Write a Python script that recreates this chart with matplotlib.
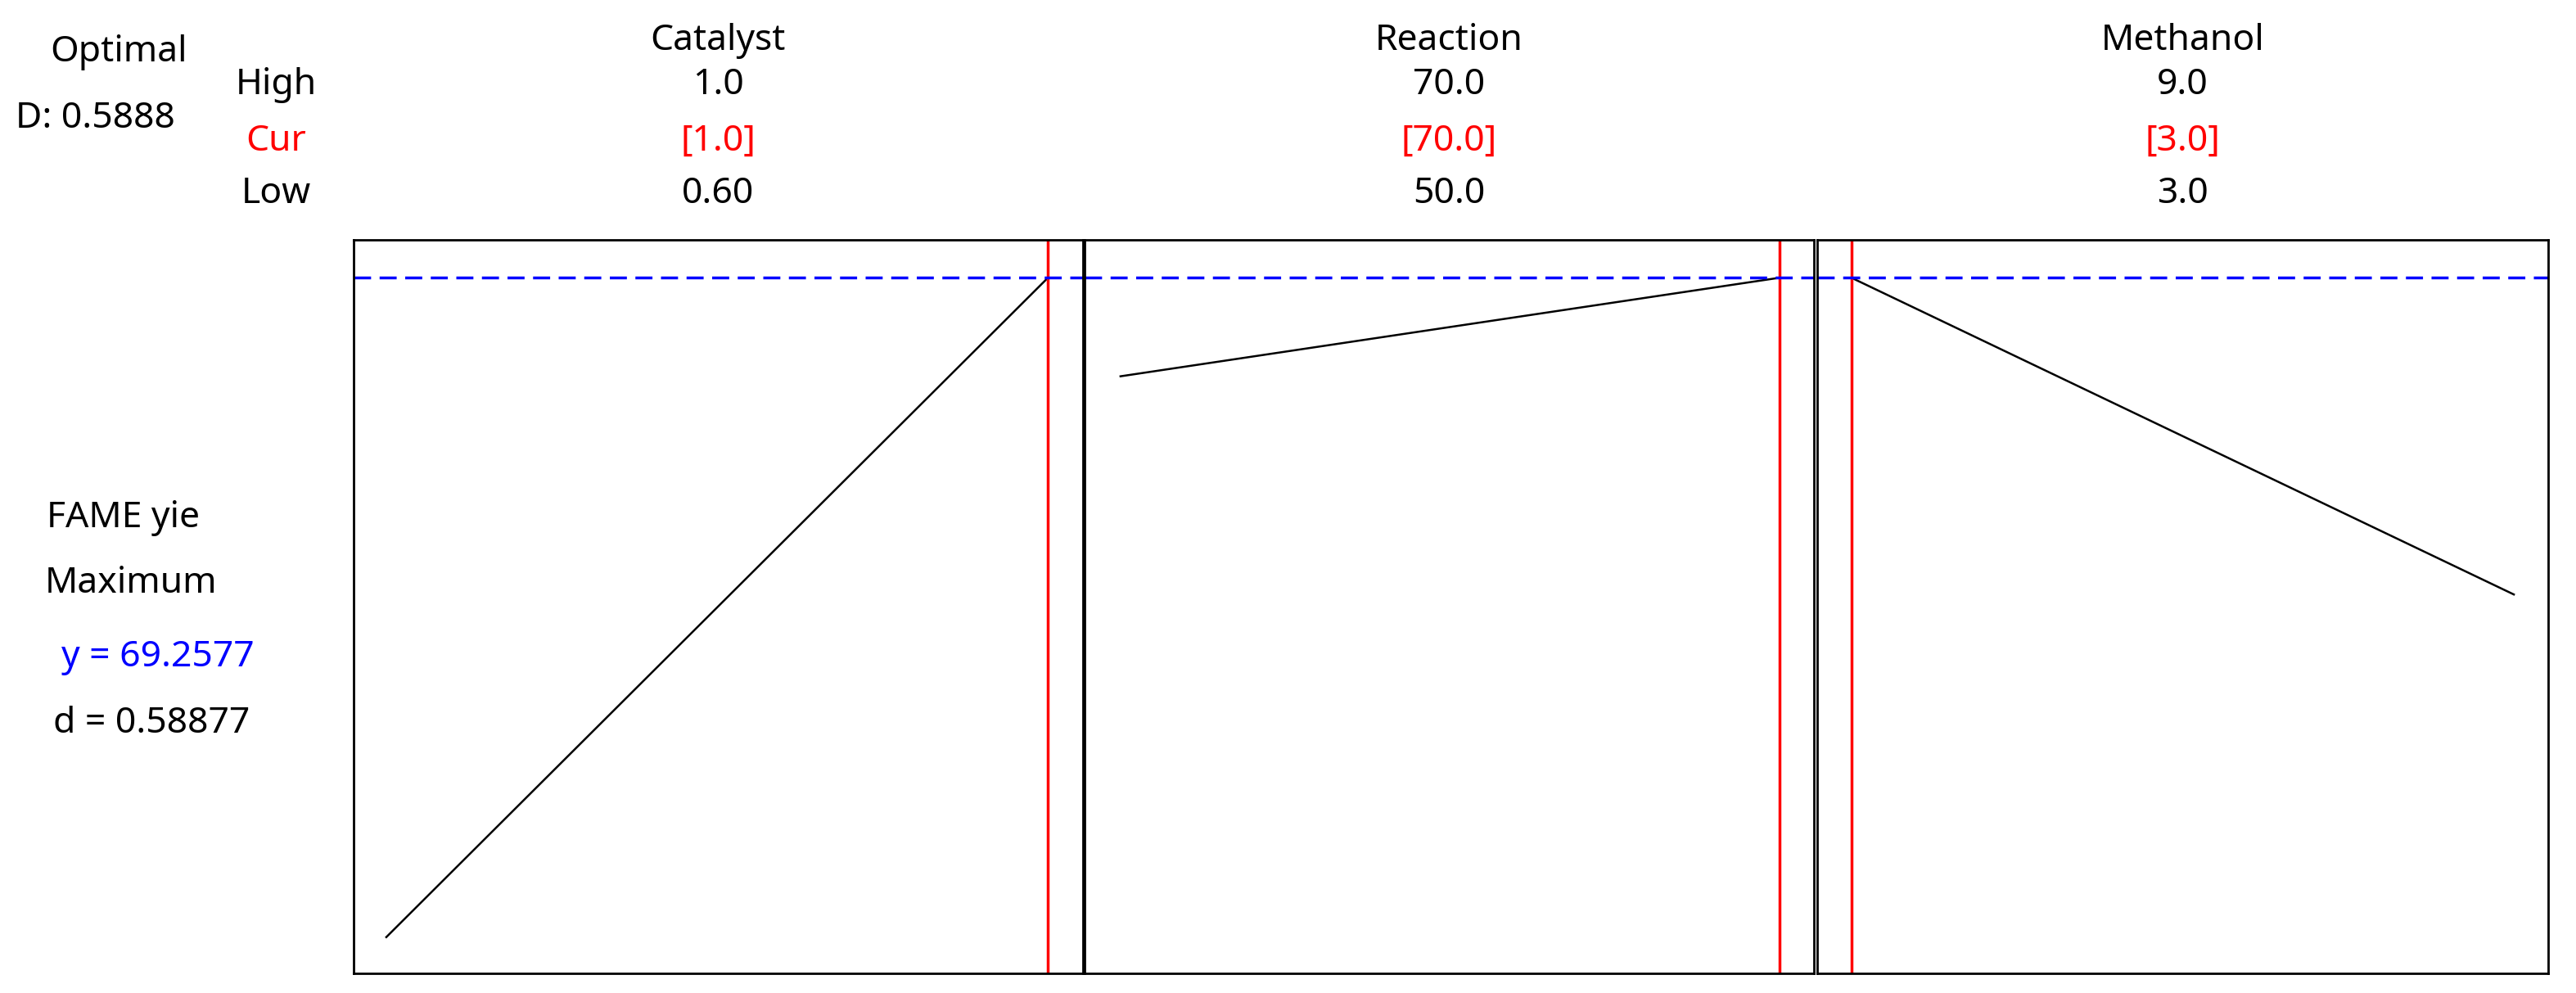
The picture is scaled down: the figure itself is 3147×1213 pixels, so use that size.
import matplotlib
matplotlib.use('Agg')
import matplotlib.pyplot as plt

plt.rcParams['font.family'] = ['Noto Sans', 'DejaVu Sans']

factors = ['Catalyst', 'Reaction', 'Methanol']
high = [1.0, 70.0, 9.0]
low = [0.60, 50.0, 3.0]
cur = [1.0, 70.0, 3.0]
high_txt = ['1.0', '70.0', '9.0']
cur_txt = ['[1.0]', '[70.0]', '[3.0]']
low_txt = ['0.60', '50.0', '3.0']
# predicted FAME yield at the low and high setting of each factor
y_low = [20.0, 61.9, 69.2577]
y_high = [69.2577, 69.2577, 45.6]
y_opt = 69.2577
d_opt = 0.58877
D_all = 0.5888

W, H = 1568, 604  # reference pixel grid used for layout
panels = [(215, 659), (660, 1104), (1106, 1551)]
top, bottom = 146, 592
xlims = [(0.58, 1.021), (48.9, 71.05), (2.687, 9.31)]
ylim = (17.3, 72.08)

fig = plt.figure(figsize=(31.47, 12.13), dpi=100)
fs = 32

for i, (x0, x1) in enumerate(panels):
    ax = fig.add_axes([x0 / W, 1 - bottom / H, (x1 - x0) / W, (bottom - top) / H])
    ax.plot([low[i], high[i]], [y_low[i], y_high[i]], color='black', lw=1.8)
    ax.axvline(cur[i], color='red', lw=2.5)
    ax.axhline(y_opt, color='blue', lw=2.5, ls=(0, (6, 3)))
    ax.set_xlim(*xlims[i])
    ax.set_ylim(*ylim)
    ax.set_xticks([])
    ax.set_yticks([])
    for s in ax.spines.values():
        s.set_linewidth(2)
    cx = (x0 + x1) / 2 / W
    fig.text(cx, 1 - 25 / H, factors[i], ha='center', va='center', fontsize=fs)
    fig.text(cx, 1 - 52 / H, high_txt[i], ha='center', va='center', fontsize=fs)
    fig.text(cx, 1 - 86 / H, cur_txt[i], ha='center', va='center', fontsize=fs, color='red')
    fig.text(cx, 1 - 118 / H, low_txt[i], ha='center', va='center', fontsize=fs)

fig.text(72 / W, 1 - 32 / H, 'Optimal', ha='center', va='center', fontsize=fs)
fig.text(58 / W, 1 - 72 / H, f'D: {D_all:.4f}', ha='center', va='center', fontsize=fs)
fig.text(168 / W, 1 - 52 / H, 'High', ha='center', va='center', fontsize=fs)
fig.text(168 / W, 1 - 86 / H, 'Cur', ha='center', va='center', fontsize=fs, color='red')
fig.text(168 / W, 1 - 118 / H, 'Low', ha='center', va='center', fontsize=fs)

fig.text(75 / W, 1 - 315 / H, 'FAME yie', ha='center', va='center', fontsize=fs)
fig.text(80 / W, 1 - 355 / H, 'Maximum', ha='center', va='center', fontsize=fs)
fig.text(96 / W, 1 - 400 / H, f'y = {y_opt:.4f}', ha='center', va='center', fontsize=fs, color='blue')
fig.text(92 / W, 1 - 440 / H, f'd = {d_opt:.5f}', ha='center', va='center', fontsize=fs)

fig.savefig('out.png', dpi=100, facecolor='white')
